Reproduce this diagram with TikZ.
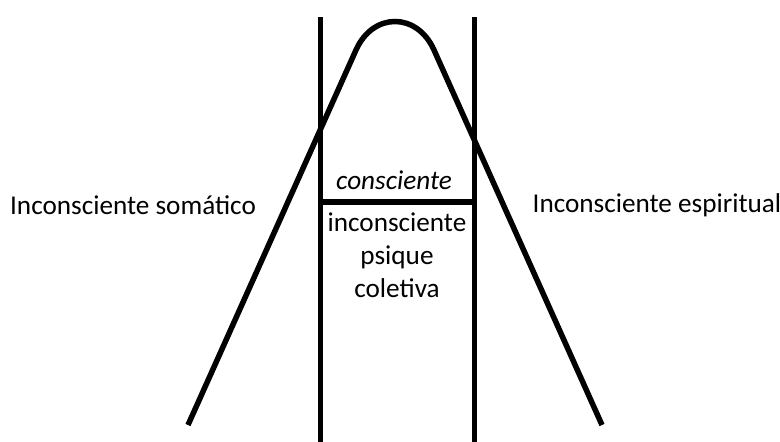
\documentclass[tikz,border=0pt]{standalone}
\usepackage{fontspec}
\setmainfont{Carlito}
\usetikzlibrary{positioning}
\tikzset{
  bar/.style={line width=5.5pt},
  lbl/.style={font=\fontsize{27.2}{33}\selectfont, inner sep=0pt, align=center},
  lbli/.style={lbl, font=\fontsize{27.2}{33}\selectfont\itshape}
}
\begin{document}
\begin{tikzpicture}[x=1pt, y=-1pt]
  \useasboundingbox (0,0) rectangle (780,442);

  % the two walls
  \coordinate (lt) at (320.5,17);
  \coordinate (lb) at (320.5,442);
  \coordinate (rt) at (474.5,17);
  \coordinate (rb) at (474.5,442);
  \draw[bar] (lt) -- (lb);
  \draw[bar] (rt) -- (rb);

  % bell
  \coordinate (bl) at (188,425);
  \coordinate (sl) at (356,50);
  \coordinate (sr) at (434,50);
  \coordinate (br) at (602,425);
  \draw[bar] (bl) -- (sl) .. controls (373,12) and (417,12) .. (sr) -- (br);

  % divider
  \coordinate (dl) at (320.5,202);
  \coordinate (dr) at (474.5,202);
  \draw[bar] (dl) -- (dr);

  \node[lbli] (consc) at (394,180) {consciente};
  \node[lbl, anchor=north] (incon) at (397,213)
        {inconsciente\\psique\\coletiva};
  \node[lbl] (soma) at (133,205) {Inconsciente somático};
  \node[lbl] (espi) at (657,205) {Inconsciente espiritual};
\end{tikzpicture}
\end{document}
